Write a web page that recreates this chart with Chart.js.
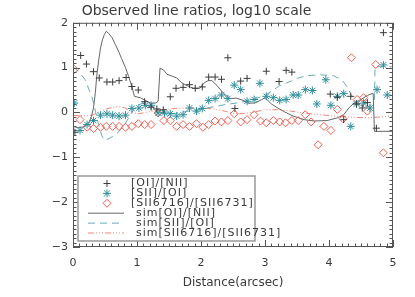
<!DOCTYPE html>
<html>
<head>
<meta charset="utf-8">
<script src="https://cdn.jsdelivr.net/npm/chart.js@4.4.1/dist/chart.umd.min.js"></script>
<style>
  html, body { margin: 0; padding: 0; background: #fff; }
  #wrap { width: 415px; height: 297px; }
</style>
</head>
<body>
<div id="wrap"><canvas id="chart" width="415" height="297"></canvas></div>
<script>
// observed [OI]/[NII]  (plus signs)
const oiNiiX = [0.03, 0.12, 0.21, 0.32, 0.41, 0.53, 0.62, 0.72, 0.83, 0.92, 1.02, 1.12, 1.22, 1.31, 1.41, 1.52, 1.61, 1.72, 1.82, 1.91, 2.02, 2.12, 2.22, 2.32, 2.42, 2.53, 2.62, 2.72, 3.02, 3.22, 3.33, 3.42, 4.02, 4.13, 4.23, 4.34, 4.43, 4.52, 4.60, 4.74, 4.85];
const oiNiiY = [-0.44, 1.27, 1.08, 0.91, 0.77, 0.68, 0.68, 0.71, 0.78, 0.58, 0.50, 0.24, 0.12, 0.08, 0.06, 0.35, 0.54, 0.56, 0.62, 0.54, 0.57, 0.79, 0.79, 0.74, 1.22, 0.09, 0.70, 0.76, 0.92, 0.69, 0.94, 0.90, 0.41, 0.34, -0.16, 0.36, 0.19, 0.10, 0.22, -0.35, 1.78];

// observed [SII]/[OI]  (asterisks)
const siiOiX = [0.02, 0.11, 0.22, 0.32, 0.43, 0.53, 0.62, 0.72, 0.82, 0.92, 1.03, 1.13, 1.22, 1.33, 1.43, 1.52, 1.62, 1.72, 1.82, 1.93, 2.02, 2.12, 2.22, 2.32, 2.42, 2.52, 2.62, 2.72, 2.83, 2.92, 3.02, 3.13, 3.23, 3.33, 3.44, 3.52, 3.63, 3.74, 3.81, 3.95, 4.03, 4.13, 4.23, 4.34, 4.43, 4.54, 4.64, 4.75, 4.85, 4.91];
const siiOiY = [0.21, -0.40, -0.27, -0.18, -0.06, -0.03, -0.06, -0.08, -0.06, 0.09, 0.10, 0.16, 0.16, -0.01, -0.01, -0.03, -0.08, -0.05, 0.10, 0.03, 0.09, 0.27, 0.31, 0.39, 0.31, 0.61, 0.51, 0.25, 0.29, 0.65, 0.36, 0.33, 0.27, 0.29, 0.39, 0.39, 0.51, 0.49, 0.19, 0.73, 0.16, 0.36, 0.42, -0.31, 0.19, 0.21, 0.10, 0.51, 1.06, 0.39];

// observed [SII6716]/[SII6731]  (diamonds)
const siiRatioX = [0.02, 0.11, 0.22, 0.32, 0.43, 0.52, 0.62, 0.72, 0.82, 0.92, 1.02, 1.12, 1.22, 1.33, 1.42, 1.52, 1.62, 1.72, 1.82, 1.93, 2.03, 2.12, 2.22, 2.32, 2.42, 2.52, 2.62, 2.72, 2.83, 2.93, 3.02, 3.13, 3.23, 3.32, 3.42, 3.52, 3.63, 3.72, 3.83, 3.92, 4.03, 4.13, 4.22, 4.35, 4.44, 4.54, 4.60, 4.73, 4.85];
const siiRatioY = [0.96, -0.16, -0.33, -0.36, -0.33, -0.31, -0.31, -0.31, -0.33, -0.31, -0.25, -0.27, -0.27, -0.01, -0.18, -0.18, -0.31, -0.27, -0.31, -0.25, -0.33, -0.27, -0.19, -0.21, -0.18, -0.03, -0.21, -0.16, -0.05, -0.19, -0.23, -0.18, -0.21, -0.23, -0.18, -0.18, -0.05, -0.21, -0.72, -0.31, -0.40, 0.07, -0.14, 1.22, 0.29, 0.33, 0.03, 1.07, -0.90];

// simulated [OI]/[NII]  (solid)
const simOiNiiX = [0, 0.08, 0.17, 0.25, 0.29, 0.32, 0.35, 0.37, 0.40, 0.43, 0.46, 0.49, 0.52, 0.56, 0.61, 0.66, 0.71, 0.76, 0.82, 0.87, 0.92, 0.96, 1.05, 1.13, 1.21, 1.29, 1.33, 1.36, 1.42, 1.47, 1.55, 1.62, 1.70, 1.78, 1.88, 1.98, 2.05, 2.11, 2.17, 2.25, 2.35, 2.45, 2.55, 2.66, 2.73, 2.84, 2.94, 3.00, 3.10, 3.20, 3.31, 3.44, 3.61, 3.77, 3.97, 4.13, 4.23, 4.31, 4.39, 4.50, 4.60, 4.69, 4.71, 5.0];
const simOiNiiY = [-0.31, -0.34, -0.32, -0.22, -0.08, 0.10, 0.45, 0.80, 1.15, 1.44, 1.62, 1.74, 1.81, 1.76, 1.67, 1.52, 1.37, 1.20, 1.00, 0.80, 0.58, 0.36, 0.33, 0.27, 0.21, 0.21, 0.25, 0.99, 0.94, 0.85, 0.81, 0.77, 0.66, 0.60, 0.54, 0.54, 0.66, 0.71, 0.71, 0.60, 0.43, 0.31, 0.32, 0.27, 0.21, 0.21, 0.28, 0.33, 0.19, 0.10, 0.01, -0.08, -0.16, -0.19, -0.18, -0.12, -0.05, 0.10, 0.21, 0.29, 0.38, 0.43, -0.42, -0.42];

// simulated [SII]/[OI]  (dashed)
const simSiiOiX = [0.0, 0.11, 0.19, 0.25, 0.30, 0.35, 0.40, 0.45, 0.50, 0.58, 0.69, 0.79, 0.87, 0.95, 1.00, 1.10, 1.21, 1.26, 1.35, 1.45, 1.60, 1.80, 2.00, 2.20, 2.40, 2.60, 2.80, 3.00, 3.13, 3.23, 3.41, 3.52, 3.65, 3.86, 4.07, 4.20, 4.30, 4.38, 4.45, 4.55, 4.65, 4.71, 4.72, 5.0];
const simSiiOiY = [1.02, 0.88, 0.73, 0.51, 0.33, 0.03, -0.27, -0.52, -0.62, -0.57, -0.46, -0.31, -0.12, 0.07, 0.16, 0.21, 0.16, 0.09, 0.0, -0.03, -0.02, 0.03, 0.07, 0.13, 0.18, 0.22, 0.28, 0.38, 0.50, 0.60, 0.70, 0.77, 0.82, 0.84, 0.82, 0.73, 0.54, 0.28, 0.18, 0.12, 0.15, 0.30, 1.02, 1.02];

// simulated [SII6716]/[SII6731]  (dash-dot)
const simSiiRatioX = [0, 0.1, 0.2, 0.3, 0.4, 0.5, 0.6, 0.7, 0.8, 0.9, 1.0, 1.1, 1.2, 1.4, 1.6, 1.8, 2.0, 2.2, 2.4, 2.5, 2.6, 2.8, 3.0, 3.2, 3.4, 3.6, 3.8, 4.0, 4.2, 4.4, 4.6, 4.8, 5.0];
const simSiiRatioY = [-0.07, -0.07, -0.08, -0.06, 0.0, 0.07, 0.11, 0.13, 0.11, 0.03, -0.03, -0.01, 0.02, 0.06, 0.09, 0.10, 0.10, 0.08, 0.02, -0.02, -0.03, 0.0, 0.06, 0.06, 0.03, -0.01, -0.04, -0.07, -0.09, -0.11, -0.12, -0.10, -0.08];

const xTicks = [0, 1, 2, 3, 4, 5];
const yTicks = [-3, -2, -1, 0, 1, 2];

const INK = '#3a3a3a';
const TEAL = '#2f8f9c';
const RED = '#ec5f52';
const FONT = '"DejaVu Sans", sans-serif';

function pts(xs, ys) {
  return xs.map((x, i) => ({ x: x, y: ys[i] }));
}

// box with inward ticks on all four sides, IDL style
const frameTicks = {
  id: 'frameTicks',
  afterDatasetsDraw(chart) {
    const { ctx, chartArea: a, scales: { x, y } } = chart;
    ctx.save();
    ctx.strokeStyle = '#555';
    ctx.lineWidth = 1;
    ctx.strokeRect(a.left + 0.5, a.top + 0.5, a.right - a.left - 1, a.bottom - a.top - 1);
    ctx.beginPath();
    for (let i = 0; i <= 50; i++) {
      const px = Math.round(x.getPixelForValue(i / 10)) + 0.5;
      const len = i % 10 === 0 ? 7 : 3.5;
      ctx.moveTo(px, a.bottom); ctx.lineTo(px, a.bottom - len);
      ctx.moveTo(px, a.top); ctx.lineTo(px, a.top + len);
    }
    for (let i = -30; i <= 20; i++) {
      const py = Math.round(y.getPixelForValue(i / 10)) + 0.5;
      const len = i % 10 === 0 ? 7 : 3.5;
      ctx.moveTo(a.left, py); ctx.lineTo(a.left + len, py);
      ctx.moveTo(a.right, py); ctx.lineTo(a.right - len, py);
    }
    ctx.stroke();
    ctx.restore();
  }
};

function drawMark(ctx, style, cx, cy) {
  ctx.beginPath();
  if (style === 'cross') {
    ctx.moveTo(cx - 3.5, cy); ctx.lineTo(cx + 3.5, cy);
    ctx.moveTo(cx, cy - 3.5); ctx.lineTo(cx, cy + 3.5);
  } else if (style === 'star') {
    ctx.moveTo(cx - 4, cy); ctx.lineTo(cx + 4, cy);
    ctx.moveTo(cx, cy - 4); ctx.lineTo(cx, cy + 4);
    ctx.moveTo(cx - 2.8, cy - 2.8); ctx.lineTo(cx + 2.8, cy + 2.8);
    ctx.moveTo(cx - 2.8, cy + 2.8); ctx.lineTo(cx + 2.8, cy - 2.8);
  } else {
    ctx.moveTo(cx - 4, cy); ctx.lineTo(cx, cy - 4);
    ctx.lineTo(cx + 4, cy); ctx.lineTo(cx, cy + 4); ctx.closePath();
  }
  ctx.stroke();
}

// legend box in the lower left of the plot
const boxLegend = {
  id: 'boxLegend',
  afterDraw(chart) {
    const { ctx } = chart;
    const left = 78, top = 176, w = 177, h = 65;
    ctx.save();
    ctx.fillStyle = '#fff';
    ctx.fillRect(left, top, w, h);
    ctx.strokeStyle = '#999';
    ctx.lineWidth = 1.5;
    ctx.strokeRect(left, top, w, h);
    ctx.font = '11px ' + FONT;
    ctx.letterSpacing = '1px';
    ctx.textBaseline = 'middle';
    ctx.fillStyle = INK;
    chart.data.datasets.forEach((ds, i) => {
      const cy = 183.5 + i * 9.9;
      ctx.strokeStyle = ds.borderColor;
      ctx.lineWidth = ds.borderWidth || 1;
      if (ds.showLine) {
        ctx.setLineDash(ds.borderDash || []);
        ctx.beginPath();
        ctx.moveTo(88, cy); ctx.lineTo(124, cy);
        ctx.stroke();
        ctx.setLineDash([]);
        ctx.fillText(ds.label, 136, cy);
      } else {
        drawMark(ctx, ds.pointStyle, 107, cy);
        ctx.fillText(ds.label, 131, cy);
      }
    });
    ctx.restore();
  }
};

new Chart(document.getElementById('chart'), {
  type: 'scatter',
  data: {
    datasets: [
      { label: '[OI]/[NII]', data: pts(oiNiiX, oiNiiY), pointStyle: 'cross', pointRadius: 3.5,
        borderColor: INK, borderWidth: 1, showLine: false },
      { label: '[SII]/[OI]', data: pts(siiOiX, siiOiY), pointStyle: 'star', pointRadius: 4,
        borderColor: TEAL, borderWidth: 1, showLine: false },
      { label: '[SII6716]/[SII6731]', data: pts(siiRatioX, siiRatioY), pointStyle: 'rectRot', pointRadius: 4,
        borderColor: RED, backgroundColor: 'rgba(0,0,0,0)', borderWidth: 1, showLine: false },
      { label: 'sim[OI]/[NII]', data: pts(simOiNiiX, simOiNiiY), showLine: true, pointRadius: 0,
        borderColor: '#666', borderWidth: 1, tension: 0 },
      { label: 'sim[SII]/[OI]', data: pts(simSiiOiX, simSiiOiY), showLine: true, pointRadius: 0,
        borderColor: '#6aaab6', borderWidth: 1, borderDash: [7, 5], tension: 0 },
      { label: 'sim[SII6716]/[SII6731]', data: pts(simSiiRatioX, simSiiRatioY), showLine: true, pointRadius: 0,
        borderColor: '#f08478', borderWidth: 1, borderDash: [6, 2, 1, 2, 1, 2, 1, 2], tension: 0 }
    ]
  },
  options: {
    responsive: false,
    animation: false,
    devicePixelRatio: 1,
    layout: { padding: { left: 0, right: 22, top: 0, bottom: 0 } },
    plugins: {
      legend: { display: false },
      tooltip: { enabled: false },
      title: {
        display: true,
        text: 'Observed line ratios, log10 scale',
        color: INK,
        font: { family: FONT, size: 14, weight: 'normal' },
        padding: { top: 3, bottom: 3 }
      }
    },
    scales: {
      x: {
        type: 'linear', min: 0, max: 5,
        afterBuildTicks: s => { s.ticks = xTicks.map(v => ({ value: v })); },
        afterFit: s => { s.height = 50; },
        grid: { display: false, drawTicks: false },
        border: { display: false },
        ticks: { color: INK, padding: 10, font: { family: FONT, size: 11 } },
        title: { display: true, text: 'Distance(arcsec)', color: INK,
                 font: { family: FONT, size: 12 }, padding: { top: 0, bottom: 7 } }
      },
      y: {
        type: 'linear', min: -3, max: 2,
        afterBuildTicks: s => { s.ticks = yTicks.map(v => ({ value: v })); },
        afterFit: s => { s.width = 73; },
        grid: { display: false, drawTicks: false },
        border: { display: false },
        ticks: { color: INK, padding: 5, font: { family: FONT, size: 11 },
                 callback: v => v < 0 ? '\u2212' + Math.abs(v) : String(v) }
      }
    }
  },
  plugins: [frameTicks, boxLegend]
});
</script>
</body>
</html>
